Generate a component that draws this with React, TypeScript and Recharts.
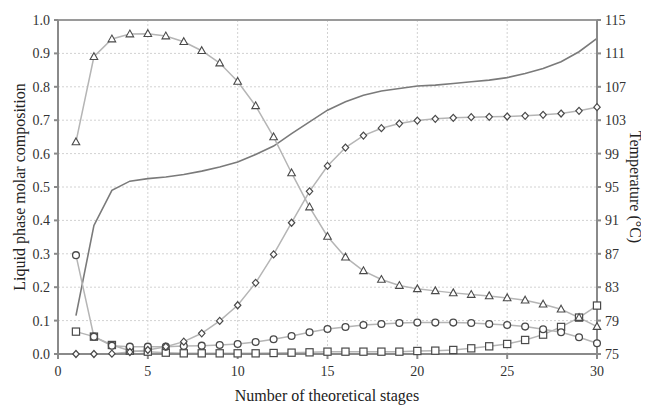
import React from "react";
import {
  ComposedChart,
  Line,
  XAxis,
  YAxis,
  CartesianGrid,
  ReferenceLine,
} from "recharts";

const stages = Array.from({ length: 30 }, (_, i) => i + 1);

const triangleComp = [
  0.635, 0.89, 0.943, 0.958, 0.959, 0.952, 0.935, 0.908, 0.871, 0.816, 0.743,
  0.65, 0.542, 0.44, 0.352, 0.29, 0.249, 0.223, 0.205, 0.195, 0.189, 0.183,
  0.178, 0.174, 0.168, 0.161, 0.149, 0.134, 0.109, 0.082,
];
const diamondComp = [
  0, 0, 0.001, 0.006, 0.012, 0.022, 0.037, 0.062, 0.099, 0.146, 0.213, 0.298,
  0.393, 0.487, 0.563, 0.618, 0.654, 0.676, 0.69, 0.699, 0.704, 0.707, 0.709,
  0.71, 0.711, 0.713, 0.716, 0.72, 0.728, 0.739,
];
const circleComp = [
  0.296, 0.052, 0.025, 0.022, 0.022, 0.022, 0.024, 0.025, 0.027, 0.03, 0.036,
  0.044, 0.054, 0.065, 0.075, 0.081, 0.087, 0.09, 0.093, 0.094, 0.094, 0.094,
  0.093, 0.09, 0.087, 0.082, 0.074, 0.065, 0.05, 0.032,
];
const squareComp = [
  0.067, 0.052, 0.027, 0.01, 0.007, 0.004, 0.002, 0.002, 0.002, 0.002, 0.002,
  0.003, 0.004, 0.005, 0.007, 0.007, 0.007, 0.007, 0.007, 0.009, 0.01, 0.012,
  0.017, 0.023, 0.03, 0.042, 0.058, 0.081, 0.109, 0.145,
];
const temperature = [
  79.6, 90.4, 94.6, 95.7, 96.0, 96.2, 96.5, 96.9, 97.4, 98.0, 98.9, 99.9,
  101.4, 102.8, 104.2, 105.2, 106.0, 106.5, 106.8, 107.1, 107.2, 107.4, 107.6,
  107.8, 108.1, 108.6, 109.2, 110.0, 111.2, 112.8,
];

const xTicks = [0, 5, 10, 15, 20, 25, 30];
const compTicks = [0, 0.1, 0.2, 0.3, 0.4, 0.5, 0.6, 0.7, 0.8, 0.9, 1.0];
const tempTicks = [75, 79, 83, 87, 91, 95, 99, 103, 107, 111, 115];

const data = stages.map((s, i) => ({
  stage: s,
  tri: triangleComp[i],
  dia: diamondComp[i],
  cir: circleComp[i],
  sq: squareComp[i],
  temp: temperature[i],
}));

const FONT = "Liberation Serif";
const MARK = "#4a4a4a";
const LINE = "#b5b5b5";
const TXT = "#333";

const Triangle = (props: any) => {
  const { cx, cy } = props;
  if (cx == null || cy == null) return null;
  return (
    <path
      d={`M${cx},${cy - 4} L${cx + 3.8},${cy + 2.8} L${cx - 3.8},${cy + 2.8} Z`}
      fill="#fff"
      stroke={MARK}
      strokeWidth={1.1}
    />
  );
};
const Diamond = (props: any) => {
  const { cx, cy } = props;
  if (cx == null || cy == null) return null;
  return (
    <path
      d={`M${cx},${cy - 3.5} L${cx + 3.2},${cy} L${cx},${cy + 3.5} L${cx - 3.2},${cy} Z`}
      fill="#fff"
      stroke={MARK}
      strokeWidth={1.2}
    />
  );
};
const Circle = (props: any) => {
  const { cx, cy } = props;
  if (cx == null || cy == null) return null;
  return <circle cx={cx} cy={cy} r={3.4} fill="#fff" stroke={MARK} strokeWidth={1.3} />;
};
const Square = (props: any) => {
  const { cx, cy } = props;
  if (cx == null || cy == null) return null;
  return (
    <rect x={cx - 3.6} y={cy - 3.6} width={7.2} height={7.2} fill="#fff" stroke={MARK} strokeWidth={1.2} />
  );
};

const XTick = (props: any) => {
  const { x, y, payload } = props;
  return (
    <text x={x} y={y + 15} textAnchor="middle" fontFamily={FONT} fontSize={14} fill={TXT}>
      {payload.value}
    </text>
  );
};
const LeftTick = (props: any) => {
  const { x, y, payload } = props;
  return (
    <text x={x - 2} y={y + 5} textAnchor="end" fontFamily={FONT} fontSize={14} fill={TXT}>
      {Number(payload.value).toFixed(1)}
    </text>
  );
};
const RightTick = (props: any) => {
  const { x, y, payload } = props;
  return (
    <text x={x + 2} y={y + 5} textAnchor="start" fontFamily={FONT} fontSize={14} fill={TXT}>
      {payload.value}
    </text>
  );
};

const LeftTitle = (props: any) => {
  const cy = 187;
  return (
    <text
      x={25}
      y={cy}
      transform={`rotate(-90 25 ${cy})`}
      textAnchor="middle"
      fontFamily={FONT}
      fontSize={16}
      fill="#222"
    >
      Liquid phase molar composition
    </text>
  );
};
const RightTitle = (props: any) => {
  const cy = 187;
  return (
    <text
      x={630}
      y={cy}
      transform={`rotate(90 630 ${cy})`}
      textAnchor="middle"
      fontFamily={FONT}
      fontSize={16}
      fill="#222"
    >
      Temperature (°C)
    </text>
  );
};
const BottomTitle = (props: any) => (
  <text x={327} y={401} textAnchor="middle" fontFamily={FONT} fontSize={16} fill="#222">
    Number of theoretical stages
  </text>
);

const App = () => {
  return (
    <div
      style={{
        margin: "-8px -8px 0 -8px",
        width: 649,
        height: 407,
        background: "#fff",
        fontFamily: FONT,
      }}
    >
      <ComposedChart
        width={649}
        height={407}
        data={data}
        margin={{ top: 20, right: 0, bottom: 0, left: 0 }}
      >
        <CartesianGrid yAxisId="comp" stroke="#d2d2d2" strokeDasharray="2 2" />
        <XAxis
          dataKey="stage"
          type="number"
          domain={[0, 30]}
          ticks={xTicks}
          height={53}
          stroke="#8a8a8a"
          strokeWidth={2}
          tickSize={5}
          tick={<XTick />}
          label={<BottomTitle />}
        />
        <YAxis
          yAxisId="comp"
          domain={[0, 1]}
          ticks={compTicks}
          width={58}
          stroke="#8a8a8a"
          strokeWidth={2}
          tickSize={4}
          tick={<LeftTick />}
          label={<LeftTitle />}
        />
        <YAxis
          yAxisId="temp"
          orientation="right"
          domain={[75, 115]}
          ticks={tempTicks}
          width={52}
          stroke="#8a8a8a"
          strokeWidth={2}
          tickSize={4}
          tick={<RightTick />}
          label={<RightTitle />}
        />
        <ReferenceLine yAxisId="comp" y={1} stroke="#9a9a9a" strokeWidth={2} />
        <Line
          yAxisId="temp"
          dataKey="temp"
          stroke="#7a7a7a"
          strokeWidth={1.6}
          dot={false}
          isAnimationActive={false}
        />
        <Line
          yAxisId="comp"
          dataKey="sq"
          stroke={LINE}
          strokeWidth={1.5}
          dot={<Square />}
          isAnimationActive={false}
        />
        <Line
          yAxisId="comp"
          dataKey="cir"
          stroke={LINE}
          strokeWidth={1.5}
          dot={<Circle />}
          isAnimationActive={false}
        />
        <Line
          yAxisId="comp"
          dataKey="dia"
          stroke={LINE}
          strokeWidth={1.5}
          dot={<Diamond />}
          isAnimationActive={false}
        />
        <Line
          yAxisId="comp"
          dataKey="tri"
          stroke={LINE}
          strokeWidth={1.5}
          dot={<Triangle />}
          isAnimationActive={false}
        />
      </ComposedChart>
    </div>
  );
};

export default App;
